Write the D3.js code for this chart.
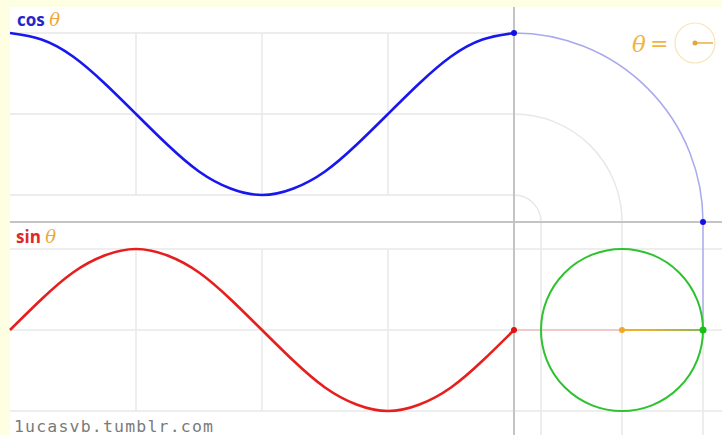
<!DOCTYPE html>
<html>
<head>
<meta charset="utf-8">
<script src="https://cdn.jsdelivr.net/npm/d3@7"></script>
<style>
  html, body { margin: 0; padding: 0; background: #fefee2; }
  svg { display: block; }
</style>
</head>
<body>
<div id="chart"></div>
<script>
// angle positions of the sampled points, in 1/16 turns, from -2π to 0
const angleSteps = [-16, -15, -14, -13, -12, -11, -10, -9, -8, -7, -6, -5, -4, -3, -2, -1, 0];
// values
const cosValues = [1, 0.92, 0.71, 0.38, 0, -0.38, -0.71, -0.92, -1, -0.92, -0.71, -0.38, 0, 0.38, 0.71, 0.92, 1];
const sinValues = [0, 0.38, 0.71, 0.92, 1, 0.92, 0.71, 0.38, 0, -0.38, -0.71, -0.92, -1, -0.92, -0.71, -0.38, 0];
const gridTicks = [-2, -1.5, -1, -0.5, 0];   // multiples of π
const levelTicks = [-1, 0, 1];
const theta = 0;

const W = 722, H = 435;
const padLeft = 10, padTop = 7;
const axisX = 514, axisY = 222;
const amp = 81;

const svg = d3.select("#chart").append("svg")
    .attr("width", W)
    .attr("height", H);

const defs = svg.append("defs");
const grad = defs.append("linearGradient").attr("id", "radGrad")
    .attr("x1", "0%").attr("x2", "100%");
grad.append("stop").attr("offset", "0%").attr("stop-color", "#f2b028");
grad.append("stop").attr("offset", "30%").attr("stop-color", "#e8b030");
grad.append("stop").attr("offset", "100%").attr("stop-color", "#88b45c");

svg.append("rect")
    .attr("x", padLeft).attr("y", padTop)
    .attr("width", W - padLeft).attr("height", H - padTop)
    .attr("fill", "#fff");

const x = d3.scaleLinear().domain([-2 * Math.PI, 0]).range([padLeft, axisX]);
const yCos = d3.scaleLinear().domain([-1, 1]).range([axisY - 27, axisY - 27 - 2 * amp]);
const ySin = d3.scaleLinear().domain([-1, 1]).range([axisY + 27 + 2 * amp, axisY + 27]);
const cx = axisX + (axisY - yCos(0));
const cy = ySin(0);
const xc = d3.scaleLinear().domain([-1, 1]).range([cx - amp, cx + amp]);

const grid = svg.append("g")
    .attr("fill", "none")
    .attr("stroke", "#e8e8e8")
    .attr("stroke-width", 1.5);

// vertical grid, both panels
gridTicks.slice(1, -1).forEach(t => {
    grid.append("line")
        .attr("x1", x(t * Math.PI)).attr("x2", x(t * Math.PI))
        .attr("y1", yCos(1)).attr("y2", yCos(-1));
    grid.append("line")
        .attr("x1", x(t * Math.PI)).attr("x2", x(t * Math.PI))
        .attr("y1", ySin(1)).attr("y2", ySin(-1));
});

// cos levels: horizontal, bend round the corner, then go down as circle grid
levelTicks.forEach(v => {
    const yy = yCos(v);
    const r = axisY - yy;
    const p = d3.path();
    p.moveTo(padLeft, yy);
    p.lineTo(axisX, yy);
    p.arc(axisX, axisY, r, -Math.PI / 2, 0);
    p.lineTo(axisX + r, H);
    grid.append("path").attr("d", p.toString());
});

// sin levels across the full width
levelTicks.forEach(v => {
    grid.append("line")
        .attr("x1", padLeft).attr("x2", W)
        .attr("y1", ySin(v)).attr("y2", ySin(v));
});

// main axes
const axes = svg.append("g").attr("stroke", "#c4c4c4").attr("stroke-width", 2);
axes.append("line").attr("x1", padLeft).attr("x2", W).attr("y1", axisY).attr("y2", axisY);
axes.append("line").attr("x1", axisX).attr("x2", axisX).attr("y1", padTop).attr("y2", H);

const cosPt = cosValues[cosValues.length - 1];
const sinPt = sinValues[sinValues.length - 1];

// faint projection lines
const rCos = axisY - yCos(cosPt);
const arcP = d3.path();
arcP.moveTo(axisX, yCos(cosPt));
arcP.arc(axisX, axisY, rCos, -Math.PI / 2, 0);
svg.append("path").attr("d", arcP.toString())
    .attr("fill", "none").attr("stroke", "#0000ff").attr("stroke-opacity", 0.27).attr("stroke-width", 1.5);
svg.append("line")
    .attr("x1", axisX + rCos).attr("x2", xc(cosPt))
    .attr("y1", axisY).attr("y2", cy - amp * sinPt)
    .attr("stroke", "#0000ff").attr("stroke-opacity", 0.27).attr("stroke-width", 1.5);
svg.append("line")
    .attr("x1", axisX).attr("x2", xc(cosPt))
    .attr("y1", ySin(sinPt)).attr("y2", ySin(sinPt))
    .attr("stroke", "#ff0000").attr("stroke-opacity", 0.2).attr("stroke-width", 1.5);

// unit circle
svg.append("circle")
    .attr("cx", cx).attr("cy", cy).attr("r", amp)
    .attr("fill", "none").attr("stroke", "#2ec22e").attr("stroke-width", 2);
svg.append("line")
    .attr("x1", cx).attr("y1", cy)
    .attr("x2", xc(cosPt)).attr("y2", cy - amp * sinPt + 0.01)
    .attr("stroke", "url(#radGrad)").attr("stroke-width", 2);

// curves
const line = (yScale) => d3.line()
    .x((d, i) => x(angleSteps[i] * Math.PI / 8))
    .y(d => yScale(d))
    .curve(d3.curveNatural);

svg.append("path").datum(cosValues)
    .attr("d", line(yCos))
    .attr("fill", "none").attr("stroke", "#1818ee").attr("stroke-width", 2.6);
svg.append("path").datum(sinValues)
    .attr("d", line(ySin))
    .attr("fill", "none").attr("stroke", "#e61e1e").attr("stroke-width", 2.6);

// points
const dot = (px, py, r, c) => svg.append("circle").attr("cx", px).attr("cy", py).attr("r", r).attr("fill", c);
dot(x(theta), yCos(cosPt), 3, "#1010e6");
dot(axisX + rCos, axisY, 3, "#1010e6");
dot(x(theta), ySin(sinPt), 3, "#e61010");
dot(cx, cy, 3, "#f0a828");
dot(xc(cosPt), cy - amp * sinPt, 3.5, "#16c016");

// labels
const cosLab = svg.append("text").attr("x", 17).attr("y", 26)
    .attr("font-family", "'Open Sans', sans-serif").attr("font-size", 17);
cosLab.append("tspan").attr("font-weight", "bold").attr("fill", "#2626c8").text("cos ");
cosLab.append("tspan").attr("font-family", "'DejaVu Serif', serif").attr("font-style", "italic")
    .attr("font-size", 18).attr("fill", "#eaa838").text("θ");

const sinLab = svg.append("text").attr("x", 16).attr("y", 243)
    .attr("font-family", "'Open Sans', sans-serif").attr("font-size", 17);
sinLab.append("tspan").attr("font-weight", "bold").attr("fill", "#e02828").text("sin ");
sinLab.append("tspan").attr("font-family", "'DejaVu Serif', serif").attr("font-style", "italic")
    .attr("font-size", 18).attr("fill", "#eaa838").text("θ");

// θ indicator
svg.append("text").attr("x", 632).attr("y", 52)
    .attr("font-family", "'DejaVu Serif', serif").attr("font-style", "italic")
    .attr("font-size", 23).attr("fill", "#f2b440").text("θ");
svg.append("text").attr("x", 650).attr("y", 51)
    .attr("font-family", "'DejaVu Sans', sans-serif")
    .attr("font-size", 22).attr("fill", "#f2b440").text("=");
svg.append("circle").attr("cx", 695).attr("cy", 43).attr("r", 20)
    .attr("fill", "none").attr("stroke", "#f6e4b4").attr("stroke-width", 1.2);
svg.append("line").attr("x1", 695).attr("y1", 43)
    .attr("x2", 695 + 18 * Math.cos(theta)).attr("y2", 43 - 18 * Math.sin(theta))
    .attr("stroke", "#e8b040").attr("stroke-width", 1.5);
dot(695, 43, 2.5, "#e0a838");

// watermark
svg.append("text").attr("x", 14).attr("y", 432)
    .attr("font-family", "'DejaVu Sans Mono', monospace")
    .attr("font-size", 16.5).attr("fill", "#7a7a7a")
    .attr("textLength", 199).attr("lengthAdjust", "spacing")
    .text("1ucasvb.tumblr.com");
</script>
</body>
</html>
